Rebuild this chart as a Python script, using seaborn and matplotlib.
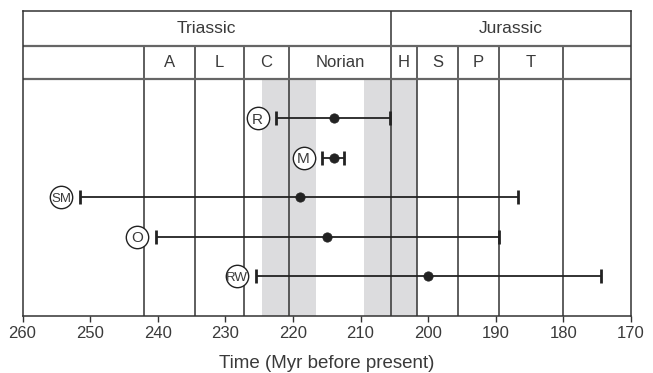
import matplotlib
matplotlib.use("Agg")
import matplotlib.pyplot as plt
import matplotlib.transforms as mtransforms
import pandas as pd
import seaborn as sns

# Dating estimates (Myr before present)
labels = ["R", "M", "SM", "O", "RW"]
estimate = [214.0, 214.0, 219.0, 215.0, 200.0]
oldest = [222.5, 215.7, 251.5, 240.3, 225.5]
youngest = [205.6, 212.4, 186.7, 189.5, 174.4]

# Geologic time scale used in the header
stage_bounds = [242.0, 234.5, 227.2, 220.6, 205.5, 201.7, 195.6, 189.5, 180.1]
stage_names = ["A", "L", "C", "Norian", "H", "S", "P", "T"]
period_bounds = [260.0, 205.5, 170.0]
period_names = ["Triassic", "Jurassic"]
shaded = [(224.6, 216.6), (209.5, 201.7)]

xticks = [260, 250, 240, 230, 220, 210, 200, 190, 180, 170]

INK = "#222222"
TXT = "#3a3a3a"
W, H = 653, 373


def main() -> None:
    sns.set_theme(style="white")
    plt.rcParams["font.family"] = ["Liberation Sans", "DejaVu Sans"]

    df = pd.DataFrame({
        "label": labels,
        "row": range(1, len(labels) + 1),
        "estimate": estimate,
        "oldest": oldest,
        "youngest": youngest,
    })

    fig = plt.figure(figsize=(W / 100, H / 100), dpi=100)
    ax = fig.add_axes([22.5 / W, (H - 316) / H, (631 - 22.5) / W, (316 - 11) / H])

    period_h, stage_h = 0.878, 0.843
    top = -(period_h + stage_h)
    ax.set_xlim(260, 170)
    ax.set_ylim(6, top)

    # shaded windows in the data area only
    for a, b in shaded:
        ax.fill_betweenx([0, 6], a, b, color="#dcdcde", lw=0, zorder=0)

    # stage boundaries and header grid
    ax.vlines(stage_bounds, -stage_h, 6, color="#333333", lw=1.1, zorder=1)
    ax.vlines(period_bounds[1:-1], top, -stage_h, color="#333333", lw=1.1, zorder=1)
    ax.hlines([0, -stage_h], 260, 170, color="#666666", lw=1.6, zorder=1)

    for name, a, b in zip(period_names, period_bounds[:-1], period_bounds[1:]):
        ax.text((a + b) / 2, -stage_h - period_h / 2, name, ha="center", va="center",
                fontsize=12.5, color=TXT)
    for name, a, b in zip(stage_names, stage_bounds[:-1], stage_bounds[1:]):
        ax.text((a + b) / 2, -stage_h / 2, name, ha="center", va="center",
                fontsize=12, color=TXT)

    # intervals
    ax.hlines(df["row"], df["oldest"], df["youngest"], color=INK, lw=1.3, zorder=3)
    ax.plot(df["oldest"], df["row"], ls="none", marker="|", ms=10, mew=2, color=INK, zorder=3)
    ax.plot(df["youngest"], df["row"], ls="none", marker="|", ms=10, mew=2, color=INK, zorder=3)
    sns.scatterplot(data=df, x="estimate", y="row", s=45, color=INK, edgecolor=INK,
                    linewidth=0.5, zorder=4, ax=ax, legend=False)

    # circled labels to the left of each interval
    shift = mtransforms.offset_copy(ax.transData, fig=fig, x=-18.5, y=0, units="dots")
    ax.scatter(df["oldest"], df["row"], s=260, facecolor="white", edgecolor=INK,
               linewidth=1.0, transform=shift, zorder=5)
    for _, r in df.iterrows():
        fs = 11 if len(r["label"]) == 1 else 9.5
        ax.text(r["oldest"], r["row"], r["label"], ha="center", va="center_baseline",
                fontsize=fs, color=TXT, transform=shift, zorder=6,
                stretch="condensed" if len(r["label"]) > 1 else "normal")

    ax.set_xticks(xticks)
    ax.set_xticklabels([str(t) for t in xticks])
    ax.set_yticks([])
    ax.tick_params(axis="x", direction="out", length=4, width=1, color="#333333",
                   labelsize=12, labelcolor=TXT, pad=3, bottom=True)
    ax.set_xlabel("Time (Myr before present)", fontsize=13.5, color=TXT, labelpad=10)
    ax.set_ylabel("")
    for sp in ax.spines.values():
        sp.set_visible(True)
        sp.set_color("#333333")
        sp.set_linewidth(1.1)

    fig.savefig("out.png", dpi=100)
    plt.close(fig)


if __name__ == "__main__":
    main()
